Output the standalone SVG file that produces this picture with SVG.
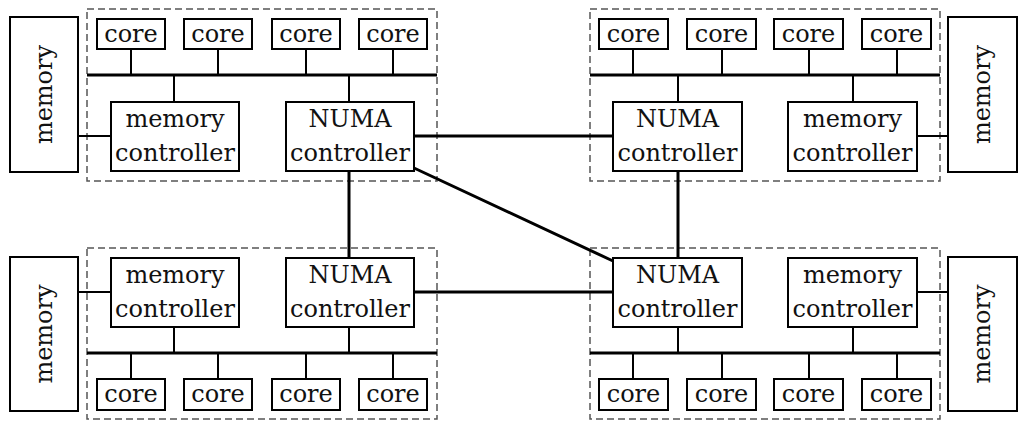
<svg xmlns="http://www.w3.org/2000/svg" width="1029" height="429" viewBox="0 0 1029 429">
<style>
.box{fill:#fff;stroke:#000;stroke-width:2}
.grp{fill:none;stroke:#555;stroke-width:1.5;stroke-dasharray:7 4}
.bus{stroke:#000;stroke-width:3;fill:none}
.stub{stroke:#000;stroke-width:2;fill:none}
.link{stroke:#000;stroke-width:3;fill:none}
text{font-family:"DejaVu Serif","Liberation Serif",serif;font-size:24px;fill:#111;text-anchor:middle}
</style>
<rect width="1029" height="429" fill="#fff"/>
<g id="groups">
<rect class="grp" x="87" y="9" width="350" height="172"/>
<rect class="grp" x="590" y="9" width="350" height="172"/>
<rect class="grp" x="87" y="248" width="350" height="171"/>
<rect class="grp" x="590" y="248" width="350" height="171"/>
</g>
<g id="connectors">
<path class="bus" d="M87 75H437M590 75H940M87 353H437M590 353H940"/>
<path class="stub" d="M131 49V75M218 49V75M306 49V75M393 49V75M633 49V75M722 49V75M809 49V75M897 49V75M174 75V102M349 75V102M678 75V102M853 75V102"/>
<path class="stub" d="M131 379V353M218 379V353M306 379V353M393 379V353M633 379V353M722 379V353M809 379V353M897 379V353M174 327V353M349 327V353M678 327V353M853 327V353"/>
<path class="stub" d="M78 136H111M917 136H948M78 292H111M917 292H948"/>
<path class="link" d="M414 136H613M414 292H613M349 171V258M678 171V258M414 168L613 261"/>
</g>
<g id="mem-tl"><rect class="box" x="10" y="17" width="68" height="155"/><text transform="translate(52 94.5) rotate(-90)">memory</text></g>
<g id="mem-tr"><rect class="box" x="948" y="17" width="69" height="155"/><text transform="translate(990 94.5) rotate(-90)">memory</text></g>
<g id="mem-bl"><rect class="box" x="10" y="257" width="68" height="154"/><text transform="translate(52 334) rotate(-90)">memory</text></g>
<g id="mem-br"><rect class="box" x="948" y="257" width="69" height="154"/><text transform="translate(990 334) rotate(-90)">memory</text></g>
<g id="core-tl-1"><rect class="box" x="97" y="19" width="68" height="30"/><text x="131" y="42">core</text></g>
<g id="core-tl-2"><rect class="box" x="184" y="19" width="68" height="30"/><text x="218" y="42">core</text></g>
<g id="core-tl-3"><rect class="box" x="272" y="19" width="68" height="30"/><text x="306" y="42">core</text></g>
<g id="core-tl-4"><rect class="box" x="359" y="19" width="68" height="30"/><text x="393" y="42">core</text></g>
<g id="core-tr-1"><rect class="box" x="599" y="19" width="69" height="30"/><text x="633.5" y="42">core</text></g>
<g id="core-tr-2"><rect class="box" x="687" y="19" width="69" height="30"/><text x="721.5" y="42">core</text></g>
<g id="core-tr-3"><rect class="box" x="774" y="19" width="69" height="30"/><text x="808.5" y="42">core</text></g>
<g id="core-tr-4"><rect class="box" x="862" y="19" width="69" height="30"/><text x="896.5" y="42">core</text></g>
<g id="core-bl-1"><rect class="box" x="97" y="379" width="68" height="31"/><text x="131" y="402">core</text></g>
<g id="core-bl-2"><rect class="box" x="184" y="379" width="68" height="31"/><text x="218" y="402">core</text></g>
<g id="core-bl-3"><rect class="box" x="272" y="379" width="68" height="31"/><text x="306" y="402">core</text></g>
<g id="core-bl-4"><rect class="box" x="359" y="379" width="68" height="31"/><text x="393" y="402">core</text></g>
<g id="core-br-1"><rect class="box" x="599" y="379" width="69" height="31"/><text x="633.5" y="402">core</text></g>
<g id="core-br-2"><rect class="box" x="687" y="379" width="69" height="31"/><text x="721.5" y="402">core</text></g>
<g id="core-br-3"><rect class="box" x="774" y="379" width="69" height="31"/><text x="808.5" y="402">core</text></g>
<g id="core-br-4"><rect class="box" x="862" y="379" width="69" height="31"/><text x="896.5" y="402">core</text></g>
<g id="memctl-tl"><rect class="box" x="111" y="102" width="128" height="69"/><text x="175" y="127">memory</text><text x="175" y="161">controller</text></g>
<g id="numa-tl"><rect class="box" x="286" y="102" width="128" height="69"/><text x="350" y="127">NUMA</text><text x="350" y="161">controller</text></g>
<g id="numa-tr"><rect class="box" x="613" y="102" width="129" height="69"/><text x="677.5" y="127">NUMA</text><text x="677.5" y="161">controller</text></g>
<g id="memctl-tr"><rect class="box" x="788" y="102" width="129" height="69"/><text x="852.5" y="127">memory</text><text x="852.5" y="161">controller</text></g>
<g id="memctl-bl"><rect class="box" x="111" y="258" width="128" height="69"/><text x="175" y="283">memory</text><text x="175" y="317">controller</text></g>
<g id="numa-bl"><rect class="box" x="286" y="258" width="128" height="69"/><text x="350" y="283">NUMA</text><text x="350" y="317">controller</text></g>
<g id="numa-br"><rect class="box" x="613" y="258" width="129" height="69"/><text x="677.5" y="283">NUMA</text><text x="677.5" y="317">controller</text></g>
<g id="memctl-br"><rect class="box" x="788" y="258" width="129" height="69"/><text x="852.5" y="283">memory</text><text x="852.5" y="317">controller</text></g>
</svg>
